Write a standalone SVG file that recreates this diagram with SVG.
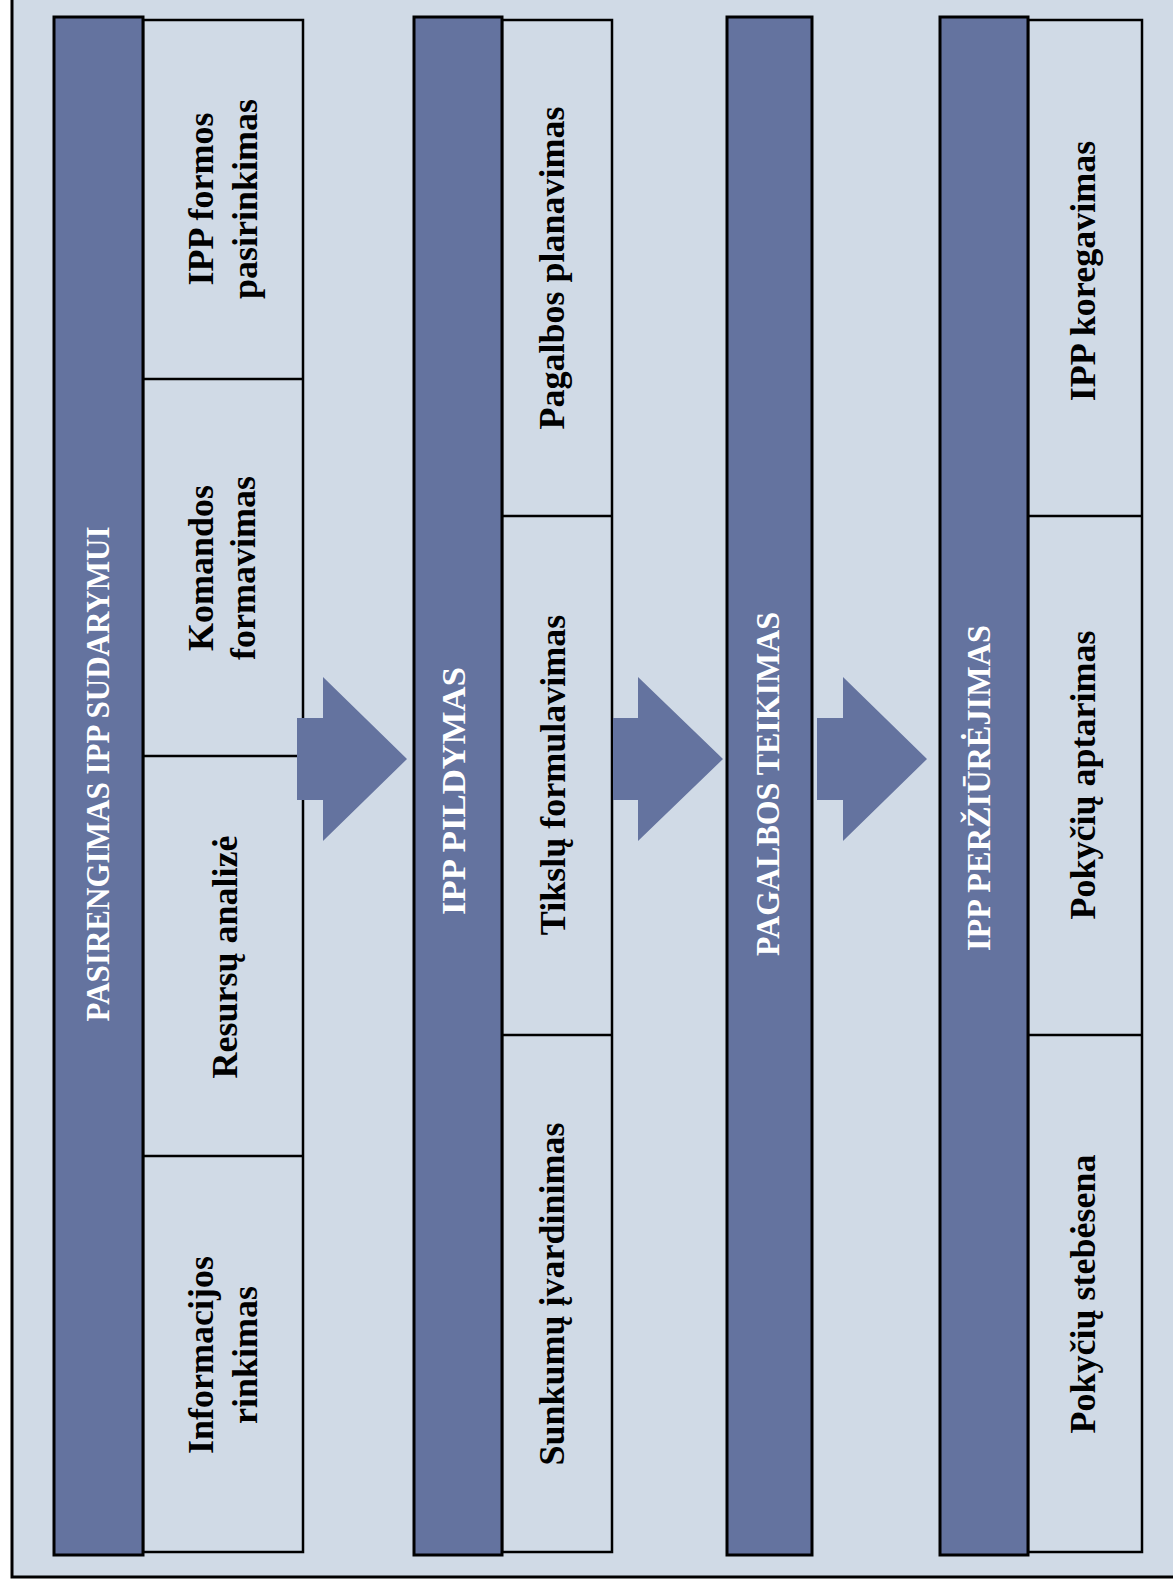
<svg xmlns="http://www.w3.org/2000/svg" width="1173" height="1585" viewBox="0 0 1173 1585">
  <style>
    .frame { fill: #d0dae6; stroke: #000; stroke-width: 3; }
    .bar { fill: #64739f; stroke: #000; stroke-width: 3; }
    .box { fill: #d0dae6; stroke: #000; stroke-width: 2.5; }
    .div { stroke: #000; stroke-width: 2.5; }
    .arrow { fill: #64739f; stroke: none; }
    .hdr { font-family: "Liberation Serif", "Times New Roman", serif; font-weight: bold; font-size: 33px; fill: #ffffff; text-anchor: middle; }
    .lbl { font-family: "Liberation Serif", "Times New Roman", serif; font-weight: bold; font-size: 36px; fill: #000000; text-anchor: middle; }
  </style>
  <rect width="1173" height="1585" fill="#ffffff"/>
  <rect class="frame" x="12" y="-20" width="1200" height="1597"/>

  <g id="stage1">
    <rect class="box" x="143" y="20" width="160" height="1532"/>
    <line class="div" x1="143" y1="379" x2="303" y2="379"/>
    <line class="div" x1="143" y1="756" x2="303" y2="756"/>
    <line class="div" x1="143" y1="1156" x2="303" y2="1156"/>
    <rect class="bar" x="54" y="17" width="89" height="1538"/>
    <text class="hdr" transform="translate(109,774) rotate(-90)" textLength="495" lengthAdjust="spacingAndGlyphs">PASIRENGIMAS IPP SUDARYMUI</text>
  </g>
  <g id="s1-forma">
    <text class="lbl" transform="translate(213,199) rotate(-90)"><tspan x="0" y="0">IPP formos</tspan><tspan x="0" y="44">pasirinkimas</tspan></text>
  </g>
  <g id="s1-komanda">
    <text class="lbl" transform="translate(213,568) rotate(-90)"><tspan x="0" y="0">Komandos</tspan><tspan x="0" y="42">formavimas</tspan></text>
  </g>
  <g id="s1-resursai">
    <text class="lbl" transform="translate(237,957) rotate(-90)">Resursų analizė</text>
  </g>
  <g id="s1-informacija">
    <text class="lbl" transform="translate(213,1355) rotate(-90)"><tspan x="0" y="0">Informacijos</tspan><tspan x="0" y="44">rinkimas</tspan></text>
  </g>

  <g id="stage2">
    <rect class="box" x="502" y="20" width="110" height="1532"/>
    <line class="div" x1="502" y1="516" x2="612" y2="516"/>
    <line class="div" x1="502" y1="1035" x2="612" y2="1035"/>
    <rect class="bar" x="414" y="17" width="88" height="1538"/>
    <text class="hdr" transform="translate(465,791) rotate(-90)" textLength="248" lengthAdjust="spacingAndGlyphs">IPP PILDYMAS</text>
  </g>
  <g id="s2-planavimas">
    <text class="lbl" transform="translate(564,268) rotate(-90)">Pagalbos planavimas</text>
  </g>
  <g id="s2-tikslai">
    <text class="lbl" transform="translate(565,775) rotate(-90)">Tikslų formulavimas</text>
  </g>
  <g id="s2-sunkumai">
    <text class="lbl" transform="translate(564,1294) rotate(-90)">Sunkumų įvardinimas</text>
  </g>

  <g id="stage3">
    <rect class="bar" x="727" y="17" width="85" height="1538"/>
    <text class="hdr" transform="translate(779,784) rotate(-90)" textLength="344" lengthAdjust="spacingAndGlyphs">PAGALBOS TEIKIMAS</text>
  </g>

  <g id="stage4">
    <rect class="box" x="1028" y="20" width="114" height="1532"/>
    <line class="div" x1="1028" y1="516" x2="1142" y2="516"/>
    <line class="div" x1="1028" y1="1035" x2="1142" y2="1035"/>
    <rect class="bar" x="940" y="17" width="88" height="1538"/>
    <text class="hdr" transform="translate(990,788) rotate(-90)" textLength="326" lengthAdjust="spacingAndGlyphs">IPP PERŽIŪRĖJIMAS</text>
  </g>
  <g id="s4-koregavimas">
    <text class="lbl" transform="translate(1095,271) rotate(-90)">IPP koregavimas</text>
  </g>
  <g id="s4-aptarimas">
    <text class="lbl" transform="translate(1095,775) rotate(-90)">Pokyčių aptarimas</text>
  </g>
  <g id="s4-stebesena">
    <text class="lbl" transform="translate(1095,1294) rotate(-90)">Pokyčių stebėsena</text>
  </g>

  <g id="connectors">
    <polygon class="arrow" points="297,718 323,718 323,677 407,759 323,841 323,800 297,800"/>
    <polygon class="arrow" points="613,718 638,718 638,677 723,759 638,841 638,800 613,800"/>
    <polygon class="arrow" points="817,718 843,718 843,677 927,759 843,841 843,800 817,800"/>
  </g>
</svg>
